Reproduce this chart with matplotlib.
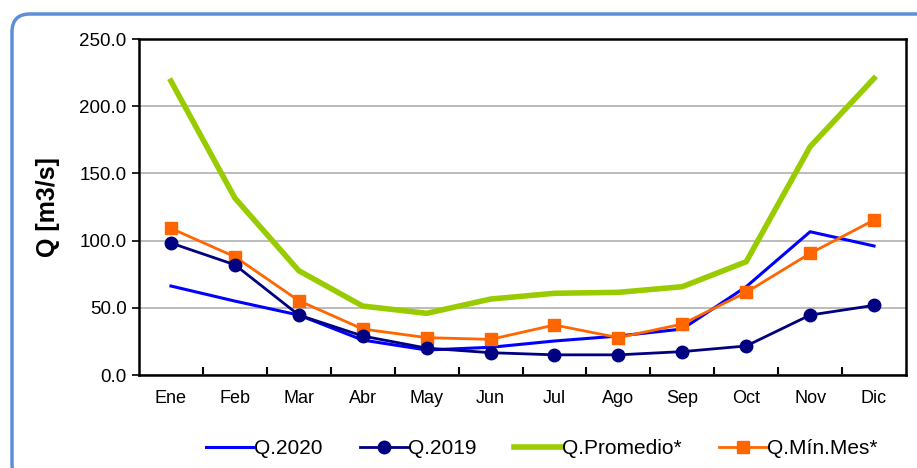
import numpy as np
import matplotlib.pyplot as plt
from matplotlib.patches import FancyBboxPatch
from matplotlib.transforms import IdentityTransform

plt.rcParams['font.family'] = ['Liberation Sans', 'DejaVu Sans']

meses = ['Ene', 'Feb', 'Mar', 'Abr', 'May', 'Jun', 'Jul', 'Ago', 'Sep', 'Oct', 'Nov', 'Dic']
q_2020 = [66.2, 55.0, 44.6, 26.0, 18.6, 20.6, 25.3, 29.0, 34.2, 65.7, 106.6, 96.0]
q_2019 = [98.2, 82.0, 44.6, 29.0, 20.0, 16.6, 15.0, 15.0, 17.4, 21.6, 44.6, 51.8]
q_promedio = [218.7, 131.7, 77.6, 51.3, 45.9, 56.5, 60.8, 61.5, 65.7, 84.3, 169.9, 220.7]
q_min_mes = [109.1, 88.0, 55.3, 34.2, 27.8, 26.5, 37.2, 27.8, 37.9, 61.5, 90.5, 115.3]

fig = plt.figure(figsize=(9.17, 4.68), dpi=100)

# rounded blue frame, runs off the right and bottom edges
frame = FancyBboxPatch((12, -14), 1000, 468,
                       boxstyle='round,pad=0,rounding_size=18',
                       transform=IdentityTransform(), fill=False,
                       edgecolor='#5b8fd6', linewidth=2.5, clip_on=False)
fig.patches.append(frame)

ax = fig.add_axes([139 / 917, 1 - 375 / 468, 767 / 917, 336 / 468])
x = np.arange(len(meses))

ax.plot(x, q_2020, color='#0000ff', lw=2.2, label='Q.2020', zorder=3)
ax.plot(x, q_2019, color='#000080', lw=2.0, marker='o', ms=9, label='Q.2019', zorder=4)
ax.plot(x, q_promedio, color='#99cc00', lw=4.0, label='Q.Promedio*', zorder=2)
ax.plot(x, q_min_mes, color='#ff6600', lw=2.0, marker='s', ms=8, label='Q.Mín.Mes*', zorder=3)

ax.set_xlim(-0.5, 11.5)
ax.set_ylim(0, 250)
ax.set_yticks(np.arange(0, 251, 50))
ax.set_yticklabels([f'{v:.1f}' for v in np.arange(0, 251, 50)])
ax.yaxis.grid(True, color='#b0b0b0', lw=1.2)
ax.set_axisbelow(True)

ax.set_xticks(x)
ax.set_xticklabels(meses)
ax.set_xticks(np.arange(0.5, 11.5, 1), minor=True)
ax.tick_params(axis='x', which='major', length=0, pad=11, labelsize=13)
ax.tick_params(axis='x', which='minor', direction='in', length=6, width=1.5)
ax.tick_params(axis='y', direction='out', length=5, width=1.2, labelsize=13.5, pad=4)

for s in ax.spines.values():
    s.set_color('black')
    s.set_linewidth(1.8)

ax.set_ylabel('Q [m3/s]', fontsize=18, fontweight='bold', labelpad=14)

ax.legend(loc='upper center', bbox_to_anchor=(0.525, -0.135), ncol=4, frameon=False,
          fontsize=15, handlelength=2.3, handletextpad=0.0, columnspacing=1.8)

fig.savefig('out.png', dpi=100)
